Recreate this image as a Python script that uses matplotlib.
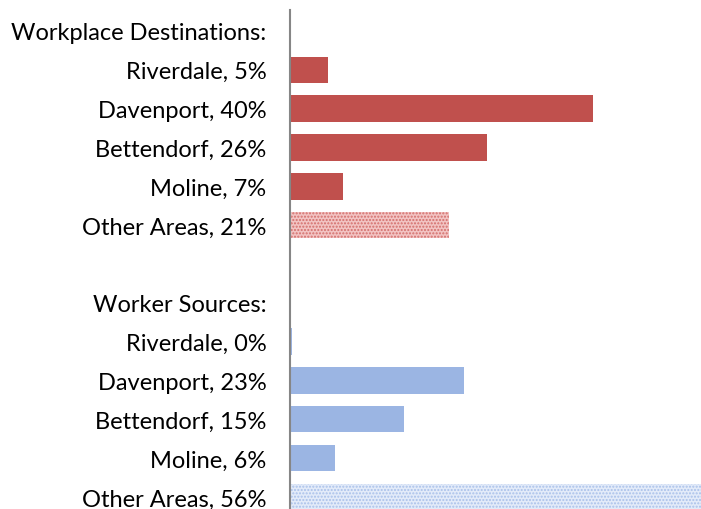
import matplotlib
matplotlib.use("Agg")
import matplotlib.pyplot as plt

plt.rcParams['font.family'] = ['Lato', 'DejaVu Sans']
plt.rcParams['hatch.linewidth'] = 1.0

# Data
places = ['Riverdale', 'Davenport', 'Bettendorf', 'Moline', 'Other Areas']
dest_pct = [5, 40, 26, 7, 21]
dest_labels = ['5%', '40%', '26%', '7%', '21%']
source_pct = [0.2, 23, 15, 6, 56]
source_labels = ['0%', '23%', '15%', '6%', '56%']

red = '#C0504D'
blue = '#9BB5E3'

fig = plt.figure(figsize=(7.01, 5.10), dpi=100)
ax = fig.add_axes([290 / 701, 0, 1 - 290 / 701, 1 - 11 / 510])

# rows: header, 5 dest, blank, header, 5 sources
tick_labels = ['Workplace Destinations:']
tick_labels += [f'{p}, {l}' for p, l in zip(places, dest_labels)]
tick_labels += ['']
tick_labels += ['Worker Sources:']
tick_labels += [f'{p}, {l}' for p, l in zip(places, source_labels)]

bh = 0.68
for i, v in enumerate(dest_pct):
    y = 1 + i
    if places[i] == 'Other Areas':
        ax.barh(y, v, height=bh, color='#F2C4C3', edgecolor='#D36E6B',
                hatch='.....', linewidth=0)
    else:
        ax.barh(y, v, height=bh, color=red, linewidth=0)

for i, v in enumerate(source_pct):
    y = 8 + i
    if places[i] == 'Other Areas':
        ax.barh(y, v, height=bh, color='#E3EBF9', edgecolor='#A9C0EA',
                hatch='.....', linewidth=0)
    else:
        ax.barh(y, v, height=bh, color=blue, linewidth=0)

ax.set_yticks(range(len(tick_labels)))
ax.set_yticklabels(tick_labels, fontsize=17)
ax.tick_params(axis='y', length=0, pad=17)
ax.set_xticks([])
ax.set_xlim(0, 54.2)
ax.set_ylim(12.31, -0.54)

for s in ['top', 'right', 'bottom']:
    ax.spines[s].set_visible(False)
ax.spines['left'].set_color('#868686')
ax.spines['left'].set_linewidth(1.5)

fig.savefig('out.png', dpi=100)
